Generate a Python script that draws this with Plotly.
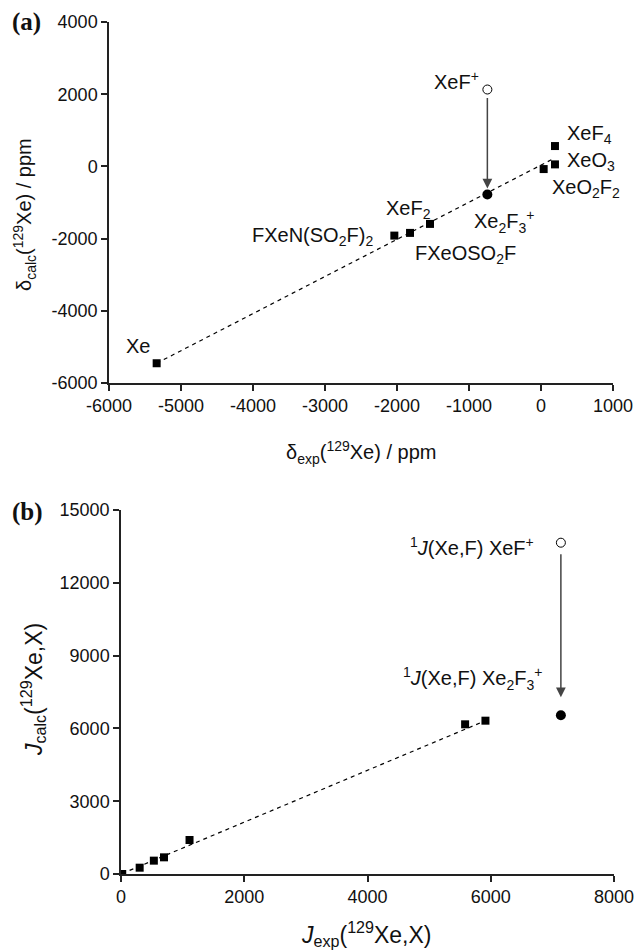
import plotly.graph_objects as go

W, H = 634, 952

# ---------------- Panel (a) data ----------------
a_names = ["Xe", "FXeN(SO<sub>2</sub>F)<sub>2</sub>", "FXeOSO<sub>2</sub>F", "XeF<sub>2</sub>",
           "XeO<sub>2</sub>F<sub>2</sub>", "XeO<sub>3</sub>", "XeF<sub>4</sub>"]
a_exp = [-5338, -2037, -1819, -1542, 37, 194, 194]
a_calc = [-5453, -1917, -1842, -1593, -74, 56, 564]
a_xef_exp, a_xef_calc = [-745], [2130]          # XeF+ (open)
a_xe2f3_exp, a_xe2f3_calc = [-745], [-778]      # Xe2F3+ (filled)
a_trend_x = [-5338, 150]
a_trend_y = [-5453, 190]
a_xticks = [-6000, -5000, -4000, -3000, -2000, -1000, 0, 1000]
a_yticks = [-6000, -4000, -2000, 0, 2000, 4000]

# ---------------- Panel (b) data ----------------
b_exp = [20, 303, 533, 698, 1112, 5584, 5914]
b_calc = [0, 260, 550, 687, 1401, 6168, 6318]
b_xef_exp, b_xef_calc = [7138], [13653]
b_xe2f3_exp, b_xe2f3_calc = [7138], [6540]
b_trend_x = [20, 5914]
b_trend_y = [20, 6318]
b_xticks = [0, 2000, 4000, 6000, 8000]
b_yticks = [0, 3000, 6000, 9000, 12000, 15000]

FONT = "Liberation Sans, Arial, sans-serif"
AX = "#222"

def px_dom_x(l, r):
    return [l / W, r / W]

def px_dom_y(t, b):
    return [(H - b) / H, (H - t) / H]

def ticks(vals):
    return dict(tickmode="array", tickvals=vals, ticktext=[str(v) for v in vals])

fig = go.Figure()

# panel (a)
fig.add_trace(go.Scatter(x=a_trend_x, y=a_trend_y, mode="lines",
                         line=dict(color="black", width=1.2, dash="4px,4px"),
                         xaxis="x", yaxis="y", showlegend=False))
fig.add_trace(go.Scatter(x=a_exp, y=a_calc, mode="markers",
                         marker=dict(symbol="square", size=8, color="black"),
                         xaxis="x", yaxis="y", showlegend=False))
fig.add_trace(go.Scatter(x=a_xef_exp, y=a_xef_calc, mode="markers",
                         marker=dict(symbol="circle", size=9, color="white",
                                     line=dict(color="black", width=1)),
                         xaxis="x", yaxis="y", showlegend=False))
fig.add_trace(go.Scatter(x=a_xe2f3_exp, y=a_xe2f3_calc, mode="markers",
                         marker=dict(symbol="circle", size=10, color="black"),
                         xaxis="x", yaxis="y", showlegend=False))

# panel (b)
fig.add_trace(go.Scatter(x=b_trend_x, y=b_trend_y, mode="lines",
                         line=dict(color="black", width=1.2, dash="4px,4px"),
                         xaxis="x2", yaxis="y2", showlegend=False))
fig.add_trace(go.Scatter(x=b_exp, y=b_calc, mode="markers",
                         marker=dict(symbol="square", size=8, color="black"),
                         xaxis="x2", yaxis="y2", showlegend=False))
fig.add_trace(go.Scatter(x=b_xef_exp, y=b_xef_calc, mode="markers",
                         marker=dict(symbol="circle", size=9, color="white",
                                     line=dict(color="black", width=1)),
                         xaxis="x2", yaxis="y2", showlegend=False))
fig.add_trace(go.Scatter(x=b_xe2f3_exp, y=b_xe2f3_calc, mode="markers",
                         marker=dict(symbol="circle", size=10, color="black"),
                         xaxis="x2", yaxis="y2", showlegend=False))

axis_common = dict(showline=True, linecolor=AX, linewidth=1.5, ticks="outside",
                   ticklen=6, tickwidth=1.5, tickcolor=AX, showgrid=False,
                   zeroline=False, mirror=False, automargin=False,
                   ticklabeloverflow="allow",
                   tickfont=dict(family=FONT, size=18, color="#111"))

fig.update_layout(
    width=W, height=H, margin=dict(l=0, r=0, t=0, b=0),
    paper_bgcolor="white", plot_bgcolor="white",
    xaxis=dict(domain=px_dom_x(109, 613), range=[-6000, 1000], anchor="y",
               **ticks(a_xticks), **axis_common),
    yaxis=dict(domain=px_dom_y(22, 383), range=[-6000, 4000], anchor="x",
               **ticks(a_yticks), **axis_common),
    xaxis2=dict(domain=px_dom_x(121, 614), range=[0, 8000], anchor="y2",
                **ticks(b_xticks), **axis_common),
    yaxis2=dict(domain=px_dom_y(510, 874), range=[0, 15000], anchor="x2",
                **ticks(b_yticks), **axis_common),
)

ann = []
LF = dict(family=FONT, size=20, color="#111")

def lab(text, x, y, xa, xs, ys, xref="x", yref="y", font=LF):
    ann.append(dict(text=text, x=x, y=y, xref=xref, yref=yref, showarrow=False,
                    xanchor=xa, yanchor="middle", xshift=xs, yshift=ys, font=font))

# panel (a) labels (offsets from their points)
lab("Xe", a_exp[0], a_calc[0], "left", -33, 17)
lab(a_names[1], a_exp[1], a_calc[1], "right", -19, -1)
lab(a_names[2], a_exp[2], a_calc[2], "left", 3, -22)
lab(a_names[3], a_exp[3], a_calc[3], "left", -46, 14)
lab(a_names[4], a_exp[4], a_calc[4], "left", 6, -19)
lab(a_names[5], a_exp[5], a_calc[5], "left", 10, 3)
lab(a_names[6], a_exp[6], a_calc[6], "left", 10, 12)
lab("XeF<sup>+</sup>", a_xef_exp[0], a_xef_calc[0], "right", -6, 9)
lab("Xe<sub>2</sub>F<sub>3</sub><sup>+</sup>", a_xe2f3_exp[0], a_xe2f3_calc[0], "left", -15, -27)

# panel (b) labels
lab("<sup>1</sup><i>J</i>(Xe,F) XeF<sup>+</sup>", b_xef_exp[0], b_xef_calc[0], "right", -25, -4,
    xref="x2", yref="y2")
lab("<sup>1</sup><i>J</i>(Xe,F) Xe<sub>2</sub>F<sub>3</sub><sup>+</sup>", b_xe2f3_exp[0], b_xe2f3_calc[0],
    "right", -17, 37, xref="x2", yref="y2")

# arrows
ann.append(dict(x=a_xe2f3_exp[0], y=a_xe2f3_calc[0], ax=a_xef_exp[0], ay=a_xef_calc[0],
                xref="x", yref="y", axref="x", ayref="y", showarrow=True, text="",
                arrowhead=2, arrowsize=1.3, arrowwidth=1.5, arrowcolor="#444",
                standoff=6, startstandoff=7))
ann.append(dict(x=b_xe2f3_exp[0], y=b_xe2f3_calc[0], ax=b_xef_exp[0], ay=b_xef_calc[0],
                xref="x2", yref="y2", axref="x2", ayref="y2", showarrow=True, text="",
                arrowhead=2, arrowsize=1.3, arrowwidth=1.5, arrowcolor="#444",
                standoff=18, startstandoff=10))

# axis titles
TF = dict(family=FONT, size=20, color="#111")
TFB = dict(family=FONT, size=23, color="#111")
ann.append(dict(text="δ<sub>calc</sub>(<sup>129</sup>Xe) / ppm", xref="paper", yref="paper",
                x=25 / W, y=(H - 215) / H, textangle=-90, showarrow=False,
                xanchor="center", yanchor="middle", font=TF))
ann.append(dict(text="δ<sub>exp</sub>(<sup>129</sup>Xe) / ppm", xref="paper", yref="paper",
                x=361 / W, y=(H - 452) / H, showarrow=False,
                xanchor="center", yanchor="middle", font=TF))
ann.append(dict(text="<i>J</i><sub>calc</sub>(<sup>129</sup>Xe,X)", xref="paper", yref="paper",
                x=33 / W, y=(H - 690) / H, textangle=-90, showarrow=False,
                xanchor="center", yanchor="middle", font=TFB))
ann.append(dict(text="<i>J</i><sub>exp</sub>(<sup>129</sup>Xe,X)", xref="paper", yref="paper",
                x=367 / W, y=(H - 934) / H, showarrow=False,
                xanchor="center", yanchor="middle", font=TFB))

# panel letters
PF = dict(family="Liberation Serif, Times New Roman, serif", size=25, color="#111")
ann.append(dict(text="<b>(a)</b>", xref="paper", yref="paper", x=10 / W, y=(H - 22) / H,
                showarrow=False, xanchor="left", yanchor="middle", font=PF))
ann.append(dict(text="<b>(b)</b>", xref="paper", yref="paper", x=10 / W, y=(H - 512) / H,
                showarrow=False, xanchor="left", yanchor="middle", font=PF))

fig.update_layout(annotations=ann)
fig.write_html("out.html")
